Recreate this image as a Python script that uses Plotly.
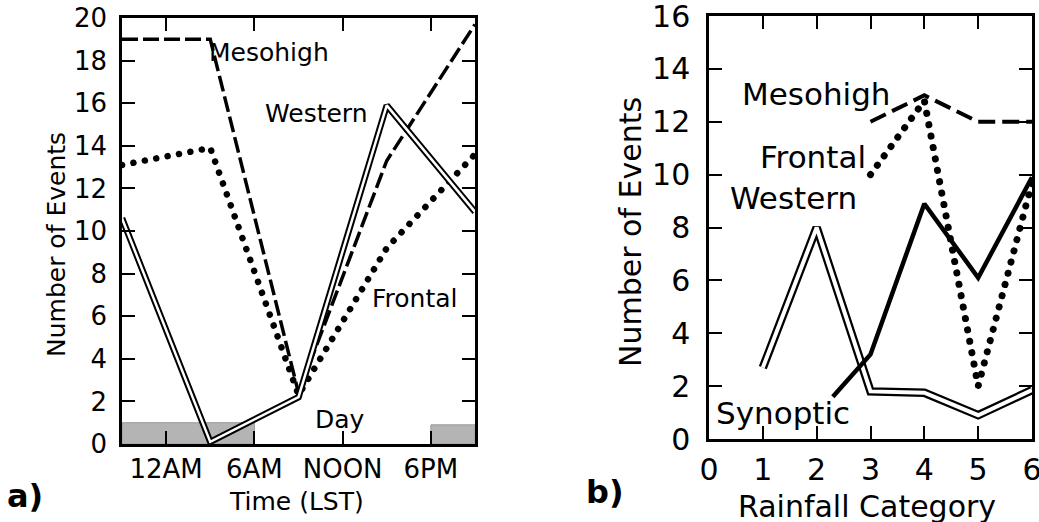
import plotly.graph_objects as go

# ---------------- Panel a data (time of day, hours LST; -3 = 9PM previous day)
hours_a = [-3, 3, 9, 15, 21]
meso_a = [19.0, 19.0, 2.4, 13.3, 19.7]
front_a = [13.1, 13.9, 2.3, 9.2, 13.6]
west_a = [10.6, 0.1, 2.2, 15.9, 10.9]
night_start = [-3, 18]
night_end = [6, 21]
night_height = [1.0, 0.9]
time_tickvals = [0, 6, 12, 18]
time_ticktext = ["12AM", "6AM", "NOON", "6PM"]

# ---------------- Panel b data (rainfall category)
cat_meso = [3, 4, 5, 6]
meso_b = [12.0, 13.0, 12.0, 12.0]
cat_front = [3, 4, 5, 6]
front_b = [10.0, 12.8, 2.0, 9.7]
cat_west = [1, 2, 3, 4, 5, 6]
west_b = [2.7, 8.0, 1.8, 1.75, 0.9, 1.85]
cat_syn = [2.3, 3, 4, 5, 6]
syn_b = [1.6, 3.2, 8.9, 6.1, 9.9]

FONT = "DejaVu Sans"
W, H = 1039, 522

fig = go.Figure()

# Panel a traces
fig.add_trace(go.Scatter(x=hours_a, y=meso_a, mode="lines", xaxis="x", yaxis="y",
                         line=dict(color="black", width=3.5, dash="16px,5px"), hoverinfo="skip"))
fig.add_trace(go.Scatter(x=hours_a, y=front_a, mode="lines", xaxis="x", yaxis="y",
                         line=dict(color="black", width=6.5, dash="0.1px,11.5px"), hoverinfo="skip"))
fig.add_trace(go.Scatter(x=hours_a, y=west_a, mode="lines", xaxis="x", yaxis="y",
                         line=dict(color="black", width=6.5), hoverinfo="skip"))
fig.add_trace(go.Scatter(x=hours_a, y=west_a, mode="lines", xaxis="x", yaxis="y",
                         line=dict(color="white", width=2.5), hoverinfo="skip"))

# Panel b traces
fig.add_trace(go.Scatter(x=cat_meso, y=meso_b, mode="lines", xaxis="x2", yaxis="y2",
                         line=dict(color="black", width=4, dash="17px,7px"), hoverinfo="skip"))
fig.add_trace(go.Scatter(x=cat_front, y=front_b, mode="lines", xaxis="x2", yaxis="y2",
                         line=dict(color="black", width=7, dash="0.1px,11.5px"), hoverinfo="skip"))
fig.add_trace(go.Scatter(x=cat_west, y=west_b, mode="lines", xaxis="x2", yaxis="y2",
                         line=dict(color="black", width=8.5), hoverinfo="skip"))
fig.add_trace(go.Scatter(x=cat_west, y=west_b, mode="lines", xaxis="x2", yaxis="y2",
                         line=dict(color="white", width=4), hoverinfo="skip"))
fig.add_trace(go.Scatter(x=cat_syn, y=syn_b, mode="lines", xaxis="x2", yaxis="y2",
                         line=dict(color="black", width=4.5), hoverinfo="skip"))

# Night shading (stippled)
for xs, xe, h in zip(night_start, night_end, night_height):
    fig.add_shape(type="rect", xref="x", yref="y", x0=xs, x1=xe, y0=0, y1=h,
                  fillcolor="#b4b4b4", line=dict(color="#9a9a9a", width=1), layer="below")

axis_common = dict(showline=True, linecolor="black", linewidth=2.5, mirror="ticks",
                   ticks="inside", tickcolor="black", tickwidth=2, showgrid=False,
                   zeroline=False, fixedrange=True, automargin=False,
                   ticklabeloverflow="allow")

fig.update_layout(
    width=W, height=H, paper_bgcolor="white", plot_bgcolor="white",
    margin=dict(l=0, r=0, t=0, b=0, pad=0, autoexpand=False), showlegend=False,
    font=dict(family=FONT, color="black"),
    xaxis=dict(domain=[122 / W, 475 / W], range=[-3, 21], tickvals=time_tickvals,
               ticktext=time_ticktext, ticklen=13, tickfont=dict(size=26), anchor="y",
               ticklabelstandoff=0, **axis_common),
    yaxis=dict(domain=[1 - 444 / H, 1 - 18 / H], range=[0, 20], dtick=2, ticklen=13,
               tickfont=dict(size=26), anchor="x", ticklabelstandoff=7, **axis_common),
    xaxis2=dict(domain=[709 / W, 1032 / W], range=[0, 6], dtick=1, ticklen=13,
                tickfont=dict(size=30), anchor="y2", ticklabelstandoff=2, **axis_common),
    yaxis2=dict(domain=[1 - 439 / H, 1 - 16 / H], range=[0, 16], dtick=2, ticklen=13,
                tickfont=dict(size=30), anchor="x2", ticklabelstandoff=10, **axis_common),
)

ann = []
def paper_text(t, x, y, size, angle=0):
    ann.append(dict(text=t, x=x / W, y=1 - y / H, xref="paper", yref="paper",
                    xanchor="center", yanchor="middle", textangle=angle,
                    font=dict(size=size), showarrow=False))

# axis titles
paper_text("Number of Events", 57, 245, 25, -90)
paper_text("Time (LST)", 296, 501, 25)
paper_text("Number of Events", 630, 232, 30, -90)
paper_text("Rainfall Category", 867, 506, 30)
# panel labels
paper_text("<b>a)</b>", 25, 496, 32)
paper_text("<b>b)</b>", 605, 492, 32)

# series labels panel a
for t, x, y in [("Mesohigh", 7.0, 18.4), ("Western", 10.2, 15.5), ("Frontal", 16.9, 6.85), ("Day", 11.8, 1.15)]:
    ann.append(dict(text=t, x=x, y=y, xref="x", yref="y", xanchor="center", yanchor="middle",
                    font=dict(size=25), showarrow=False))
# series labels panel b
for t, x, y in [("Mesohigh", 2.0, 13.05), ("Frontal", 1.94, 10.65), ("Western", 1.57, 9.1), ("Synoptic", 1.38, 0.98)]:
    ann.append(dict(text=t, x=x, y=y, xref="x2", yref="y2", xanchor="center", yanchor="middle",
                    font=dict(size=31), showarrow=False))
fig.update_layout(annotations=ann)

post = """
document.body.style.margin = '0';
document.body.style.padding = '0';
document.body.style.overflow = 'hidden';
document.querySelectorAll('.scatterlayer path.js-line').forEach(function(p){
  var d = p.style.strokeDasharray || '';
  if (d.indexOf('0.1px') === 0) { p.style.strokeLinecap = 'round'; }
});
"""
fig.write_html("out.html", post_script=post, config={"displayModeBar": False})
